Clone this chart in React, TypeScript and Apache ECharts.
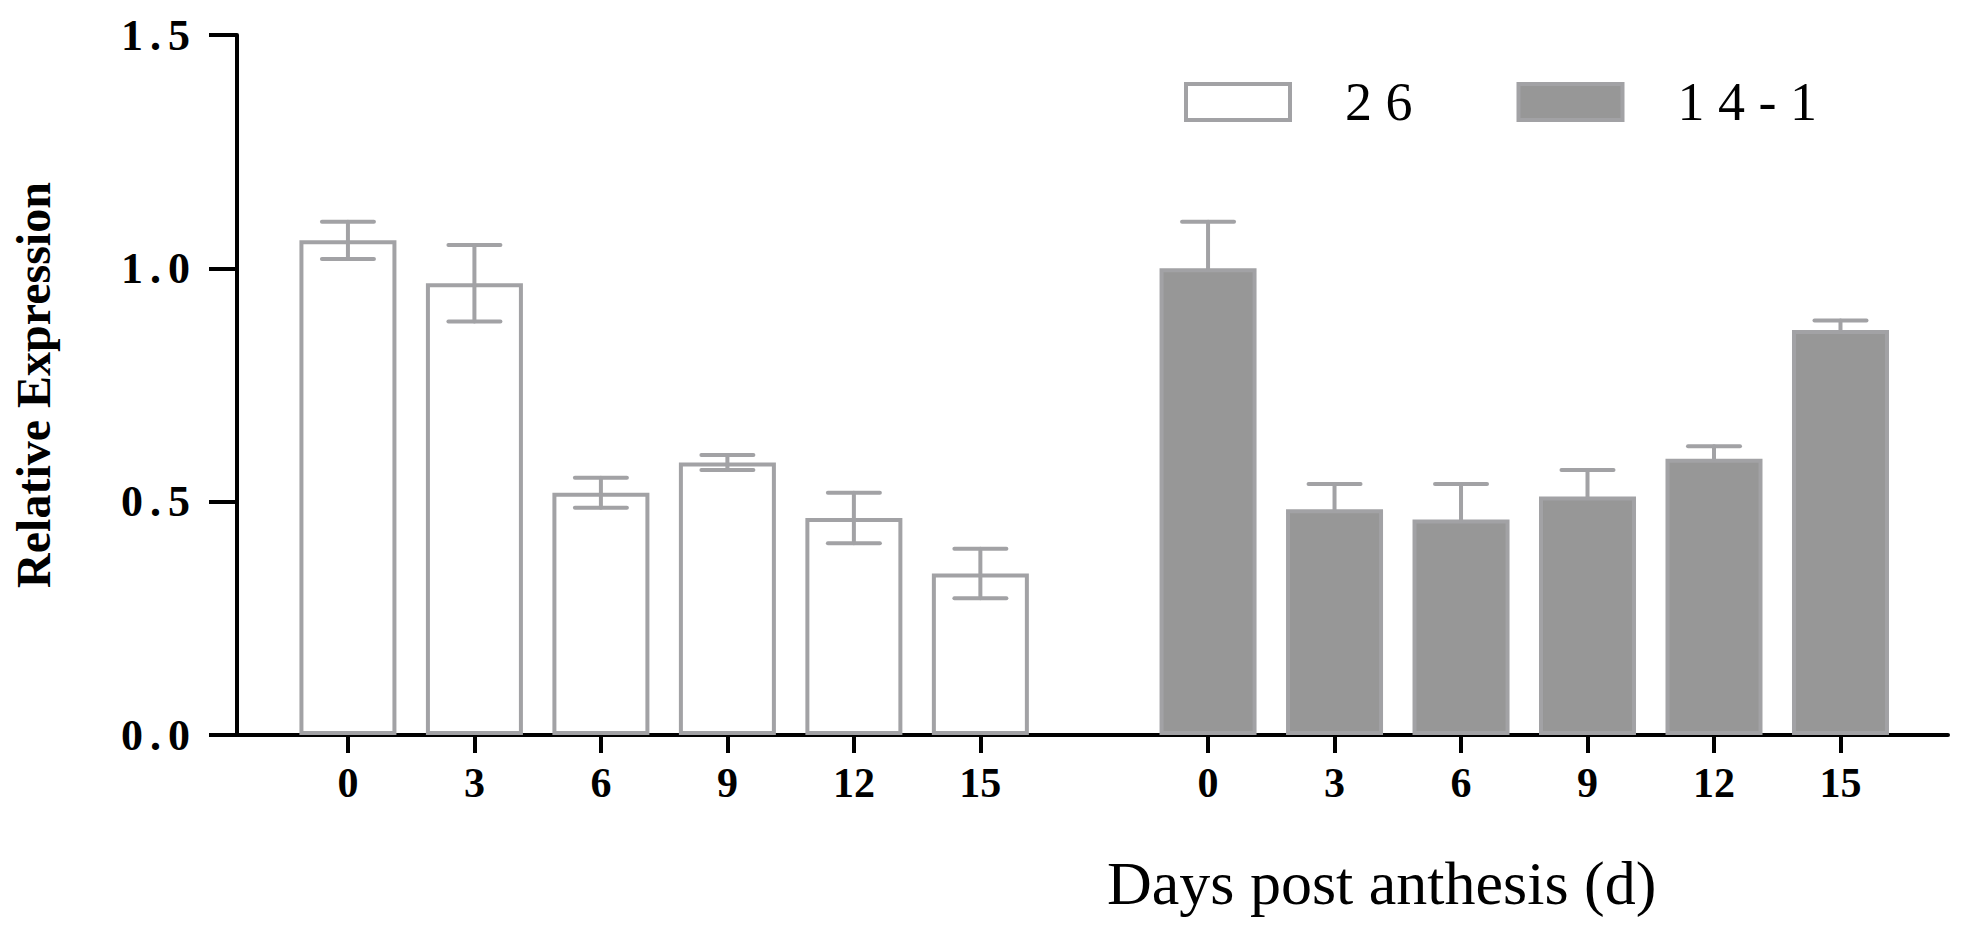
import React, { useEffect, useRef } from "react";
import * as echarts from "echarts";

// ---- data ----
const days = ["0", "3", "6", "9", "12", "15"];
const seriesNames = ["26", "14-1"];
const mean26 = [1.06, 0.968, 0.519, 0.584, 0.465, 0.346];
const err26 = [0.04, 0.082, 0.032, 0.016, 0.054, 0.053];
const mean141 = [1.0, 0.484, 0.462, 0.511, 0.592, 0.868];
const err141 = [0.1, 0.054, 0.076, 0.057, 0.027, 0.02];
const yTicks = [0, 0.5, 1.0, 1.5];
const yTitle = "Relative Expression";
const xTitle = "Days post anthesis (d)";

// ---- layout constants ----
const GROUP_OFFSET = 6.8; // distance (in bar slots) between the two groups
const X_MIN = -0.877;
const X_MAX = 12.65;
const FONT = '"Liberation Serif", "Times New Roman", Times, serif';
const GREY_LINE = "#a2a2a5";
const GREY_FILL = "#979797";

const xPos = (g: number, i: number) => +(i + g * GROUP_OFFSET).toFixed(3);

export default function App() {
  const ref = useRef<HTMLDivElement>(null);
  useEffect(() => {
    document.body.style.margin = "0";
    if (!ref.current) return;
    const chart = echarts.init(ref.current, null, { renderer: "svg" });

    const labelMap: Record<string, string> = {};
    const tickVals: number[] = [];
    [0, 1].forEach((g) =>
      days.forEach((d, i) => {
        const v = xPos(g, i);
        tickVals.push(v);
        labelMap[v.toFixed(2)] = d;
      })
    );

    const bar26 = mean26.map((v, i) => [xPos(0, i), v]);
    const bar141 = mean141.map((v, i) => [xPos(1, i), v]);
    const eb26 = mean26.map((v, i) => [xPos(0, i), v - err26[i], v + err26[i]]);
    const eb141 = mean141.map((v, i) => [xPos(1, i), v, v + err141[i]]);

    const makeRender = (lowerCap: boolean) => (params: any, api: any) => {
      const x = api.value(0);
      const lo = api.coord([x, api.value(1)]);
      const hi = api.coord([x, api.value(2)]);
      const hw = 26;
      const style = { stroke: GREY_LINE, lineWidth: 4, lineCap: "round" };
      const children: any[] = [
        { type: "line", shape: { x1: hi[0], y1: hi[1], x2: lo[0], y2: lo[1] }, style },
        { type: "line", shape: { x1: hi[0] - hw, y1: hi[1], x2: hi[0] + hw, y2: hi[1] }, style },
      ];
      if (lowerCap)
        children.push({
          type: "line",
          shape: { x1: lo[0] - hw, y1: lo[1], x2: lo[0] + hw, y2: lo[1] },
          style,
        });
      return { type: "group", children };
    };

    chart.setOption({
      animation: false,
      backgroundColor: "#ffffff",
      textStyle: { fontFamily: FONT },
      grid: { left: 237, right: 29, top: 35, bottom: 202 },
      legend: {
        left: 1179,
        top: 70,
        itemWidth: 104,
        itemHeight: 36,
        itemGap: 104,
        icon: "rect",
        selectedMode: false,
        formatter: (n: string) => n.split("").join(" "),
        textStyle: {
          fontFamily: FONT,
          fontSize: 54,
          color: "#000",
          padding: [0, 0, 0, 50],
        },
        data: [
          { name: seriesNames[0], itemStyle: { color: "#fff", borderColor: GREY_LINE, borderWidth: 4 } },
          { name: seriesNames[1], itemStyle: { color: GREY_FILL, borderColor: GREY_LINE, borderWidth: 4 } },
        ],
      },
      xAxis: {
        type: "value",
        min: X_MIN,
        max: X_MAX,
        splitLine: { show: false },
        axisLine: { show: true, onZero: false, lineStyle: { color: "#000", width: 4 } },
        axisTick: {
          show: true,
          customValues: tickVals,
          length: 18,
          lineStyle: { color: "#000", width: 4 },
        },
        axisLabel: {
          customValues: tickVals,
          margin: 27,
          fontFamily: FONT,
          fontWeight: "bold",
          fontSize: 42,
          color: "#000",
          formatter: (v: number) => labelMap[(+v).toFixed(2)] ?? "",
        },
      },
      yAxis: {
        type: "value",
        min: 0,
        max: 1.5,
        interval: 0.5,
        splitLine: { show: false },
        axisLine: { show: true, onZero: false, lineStyle: { color: "#000", width: 4 } },
        axisTick: { show: true, length: 28, lineStyle: { color: "#000", width: 4 } },
        axisLabel: {
          margin: 47,
          fontFamily: FONT,
          fontWeight: "bold",
          fontSize: 44,
          color: "#000",
          formatter: (v: number) =>
            yTicks.includes(v)
              ? v
                  .toFixed(1)
                  .split("")
                  .map((c) => `{d|${c}}`)
                  .join("{s| }")
              : "",
          rich: {
            d: { fontFamily: FONT, fontWeight: "bold", fontSize: 44, color: "#000" },
            s: { fontFamily: FONT, fontWeight: "bold", fontSize: 28, color: "#000" },
          },
        },
        name: yTitle,
        nameLocation: "middle",
        nameGap: 180,
        nameRotate: 90,
        nameTextStyle: { fontFamily: FONT, fontWeight: "bold", fontSize: 48, color: "#000" },
      },
      graphic: [
        {
          type: "text",
          left: 1107,
          top: 852,
          style: { text: xTitle, fontFamily: FONT, fontSize: 62, fill: "#000" },
        },
      ],
      series: [
        {
          name: seriesNames[0],
          type: "bar",
          data: bar26,
          barWidth: 97,
          itemStyle: { color: "#fff", borderColor: GREY_LINE, borderWidth: 4 },
          z: 2,
        },
        {
          name: seriesNames[1],
          type: "bar",
          data: bar141,
          barWidth: 97,
          barGap: "-100%",
          itemStyle: { color: GREY_FILL, borderColor: GREY_LINE, borderWidth: 4 },
          z: 2,
        },
        {
          type: "custom",
          data: eb26,
          encode: { x: 0, y: [1, 2] },
          renderItem: makeRender(true),
          z: 5,
        },
        {
          type: "custom",
          data: eb141,
          encode: { x: 0, y: [1, 2] },
          renderItem: makeRender(false),
          z: 5,
        },
      ],
    });
    return () => chart.dispose();
  }, []);
  return <div ref={ref} style={{ width: 1977, height: 937 }} />;
}
